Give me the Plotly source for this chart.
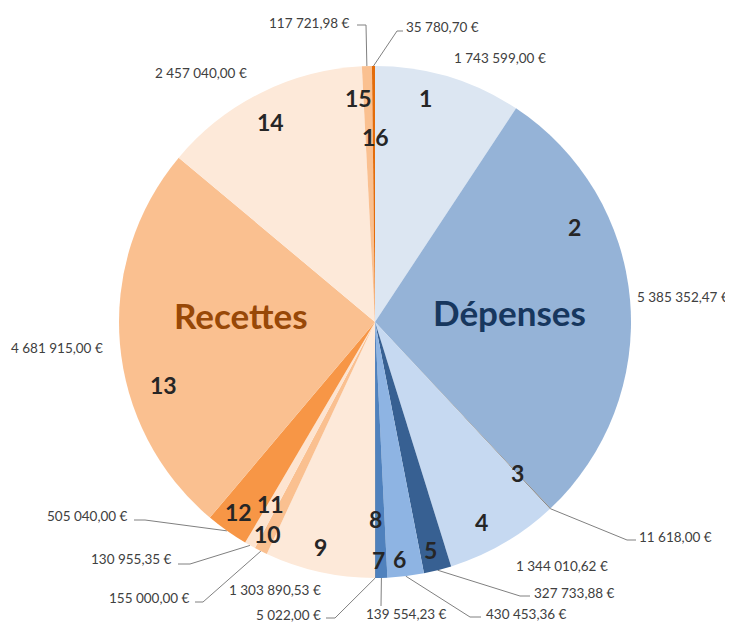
import math
import plotly.graph_objects as go

# ---- data ----
slice_ids = ["1", "2", "3", "4", "5", "6", "7", "8",
             "9", "10", "11", "12", "13", "14", "15", "16"]
values = [1743599.00, 5385352.47, 11618.00, 1344010.62, 327733.88, 430453.36, 139554.23, 5022.00,
          1303890.53, 155000.00, 130955.35, 505040.00, 4681915.00, 2457040.00, 117721.98, 35780.70]
value_labels = ["1 743 599,00 €", "5 385 352,47 €", "11 618,00 €", "1 344 010,62 €",
                "327 733,88 €", "430 453,36 €", "139 554,23 €", "5 022,00 €",
                "1 303 890,53 €", "155 000,00 €", "130 955,35 €", "505 040,00 €",
                "4 681 915,00 €", "2 457 040,00 €", "117 721,98 €", "35 780,70 €"]
group_names = ["Dépenses", "Recettes"]

# ---- style ----
colors = ["#dce6f2", "#95b3d7", "#7f7f7f", "#c6d9f1", "#376092", "#8eb4e3", "#4f81bd", "#1f497d",
          "#fde9d9", "#fac090", "#fde4d0", "#f79646", "#fac090", "#fde9d9", "#fac090", "#e46c0a"]
WIN_W, WIN_H = 733, 624
OFF = 8  # page body margin
W, H = WIN_W - OFF, WIN_H - OFF
CX, CY, R = 375, 322, 256

# number label positions (window pixels)
num_pos = [(425, 98), (574, 227), (517, 473), (481, 522), (430, 550), (399, 559), (378, 560), (375, 519),
           (320, 547), (267, 534), (270, 504), (238, 512), (163, 385), (270, 122), (358, 98), (375, 137)]
# value label positions (x, y, xanchor) and elbow points (None = no leader)
val_pos = [(500, 58, "center"), (731, 297, "right"), (637, 537, "left"), (562, 566, "center"),
           (532, 593, "left"), (484, 614, "left"), (406, 614, "center"), (323, 615, "right"),
           (323, 590, "right"), (192, 598, "right"), (174, 559, "right"), (130, 516, "right"),
           (9, 348, "left"), (201, 73, "center"), (352, 23, "right"), (404, 27, "left")]
leaders = [None, None, [(627, 540), (636, 540)], None,
           [(520, 596), (530, 596)], [(470, 617), (481, 617)], [(381, 606)], [(335, 618), (326, 618)],
           None, [(203, 602), (195, 602)], [(190, 564), (178, 564)], [(145, 520), (134, 520)],
           None, None, [(366, 25), (357, 25)], [(397, 31), (403, 31)]]
group_pos = [(509, 312, "#17375e"), (241, 315, "#984807")]

fig = go.Figure()
fig.add_trace(go.Pie(
    values=values, labels=slice_ids, sort=False, direction="clockwise", rotation=0,
    marker=dict(colors=colors, line=dict(width=0)), textinfo="none", hoverinfo="label+value",
    showlegend=False,
    domain=dict(x=[(CX - R - OFF) / W, (CX + R - OFF) / W],
                y=[(WIN_H - CY - R) / H, (WIN_H - CY + R) / H]),
))

total = sum(values)
cum = 0.0
for i, v in enumerate(values):
    mid = (cum + v / 2) / total * 2 * math.pi
    cum += v
    if leaders[i] is None:
        continue
    ex = CX + R * math.sin(mid)
    ey = CY - R * math.cos(mid)
    pts = [(ex, ey)] + leaders[i]
    fig.add_trace(go.Scatter(x=[p[0] for p in pts], y=[p[1] for p in pts], mode="lines",
                             line=dict(color="#808080", width=1), hoverinfo="skip", showlegend=False))

annotations = []
for sid, (x, y) in zip(slice_ids, num_pos):
    annotations.append(dict(x=x, y=y, xref="x", yref="y", text="<b>%s</b>" % sid, showarrow=False,
                            xanchor="center", yanchor="middle",
                            font=dict(family="Lato", size=23, color="#262626")))
for txt, (x, y, anc) in zip(value_labels, val_pos):
    annotations.append(dict(x=x, y=y, xref="x", yref="y", text=txt, showarrow=False,
                            xanchor=anc, yanchor="middle",
                            font=dict(family="Lato", size=13.5, color="#404040")))
for name, (x, y, c) in zip(group_names, group_pos):
    annotations.append(dict(x=x, y=y, xref="x", yref="y", text="<b>%s</b>" % name, showarrow=False,
                            xanchor="center", yanchor="middle",
                            font=dict(family="Lato", size=35, color=c)))

fig.update_layout(
    width=W, height=H, margin=dict(l=0, r=0, t=0, b=0),
    paper_bgcolor="white", plot_bgcolor="rgba(0,0,0,0)",
    xaxis=dict(range=[OFF, WIN_W], visible=False, fixedrange=True),
    yaxis=dict(range=[WIN_H, OFF], visible=False, fixedrange=True),
    annotations=annotations,
)
fig.write_html("out.html")
